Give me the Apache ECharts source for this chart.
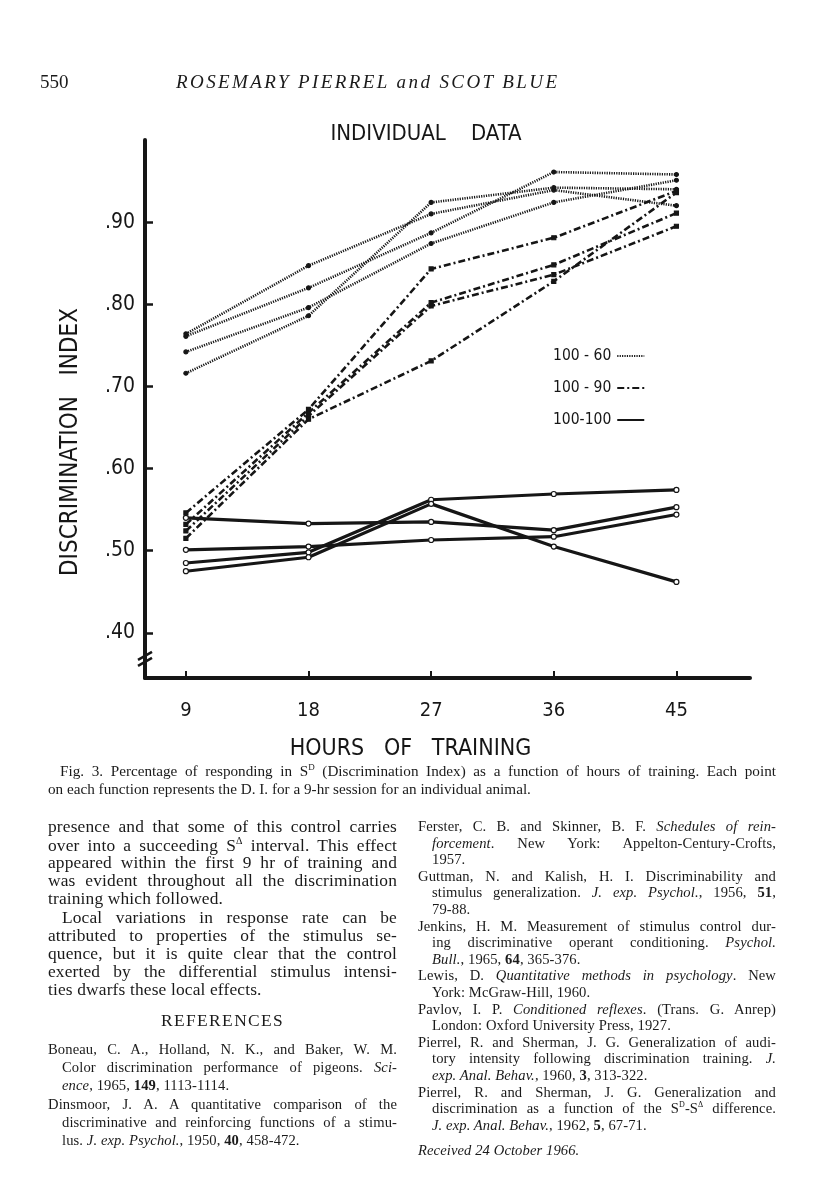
<!DOCTYPE html>
<html>
<head>
<meta charset="utf-8">
<script src="https://cdn.jsdelivr.net/npm/echarts@6/dist/echarts.min.js"></script>
<style>
  html, body { margin: 0; padding: 0; background: #ffffff; }
  #page { position: relative; width: 816px; height: 1200px; overflow: hidden; background: #fff; }
  #chart { position: absolute; left: 0; top: 0; width: 816px; height: 1200px; }
  .t { position: absolute; white-space: nowrap; font-family: "Liberation Serif", "DejaVu Serif", serif; color: #1a1a1a; line-height: 1; }
  .j { text-align: justify; text-align-last: justify; white-space: normal; }
  .body { font-size: 17.4px; letter-spacing: 0.15px; }
  .ref { font-size: 14.6px; letter-spacing: 0.1px; }
  .cap { font-size: 15.2px; }
  .hdr { font-size: 19px; }
  i { font-style: italic; }
  b { font-weight: bold; }
</style>
</head>
<body>
<div id="page">
  <div id="chart"></div>
  <div id="texts"></div>
</div>
<script>
// ---------------- data ----------------
const hours = [9, 18, 27, 36, 45];
const yTicks = [0.40, 0.50, 0.60, 0.70, 0.80, 0.90];

// 100 - 60 (dotted lines, one per animal)
const r60a = [0.716, 0.786, 0.924, 0.942, 0.940];
const r60b = [0.764, 0.847, 0.910, 0.939, 0.920];
const r60c = [0.761, 0.820, 0.887, 0.961, 0.958];
const r60d = [0.742, 0.796, 0.874, 0.924, 0.951];

// 100 - 90 (dash-dot lines)
const r90a = [0.546, 0.672, 0.843, 0.881, 0.938];
const r90b = [0.532, 0.668, 0.802, 0.848, 0.911];
const r90c = [0.524, 0.664, 0.798, 0.836, 0.895];
const r90d = [0.515, 0.660, 0.731, 0.828, 0.936];

// 100 - 100 (solid lines)
const r100a = [0.540, 0.533, 0.535, 0.525, 0.553];
const r100b = [0.501, 0.505, 0.513, 0.517, 0.544];
const r100c = [0.485, 0.498, 0.562, 0.569, 0.574];
const r100d = [0.475, 0.492, 0.557, 0.505, 0.462];

const groupNames = ['100 - 60', '100 - 90', '100-100'];

// ---------------- chart ----------------
const ink = '#161616';
const labelFont = '"DejaVu Sans Condensed", "DejaVu Sans", sans-serif';

function pts(arr) { return hours.map((h, i) => [h, arr[i]]); }

const styles = {
  '100 - 60': { type: [1.2, 1.2], width: 2.6, symbol: 'circle', size: 4, fill: ink, border: ink },
  '100 - 90': { type: [7, 3, 2, 3], width: 2.6, symbol: 'rect', size: 4, fill: ink, border: ink },
  '100-100': { type: 'solid', width: 3.2, symbol: 'circle', size: 5, fill: '#ffffff', border: ink }
};

function mk(name, arr) {
  const s = styles[name];
  return {
    type: 'line', name: name, data: pts(arr),
    symbol: s.symbol, symbolSize: s.size, showSymbol: true,
    lineStyle: { color: ink, width: s.width, type: s.type, cap: 'butt' },
    itemStyle: { color: s.fill, borderColor: s.border, borderWidth: 1.2 },
    emphasis: { disabled: true }, animation: false, z: 3
  };
}

const series = [
  mk('100 - 60', r60a), mk('100 - 60', r60b), mk('100 - 60', r60c), mk('100 - 60', r60d),
  mk('100 - 90', r90a), mk('100 - 90', r90b), mk('100 - 90', r90c), mk('100 - 90', r90d),
  mk('100-100', r100a), mk('100-100', r100b), mk('100-100', r100c), mk('100-100', r100d)
];

const chart = echarts.init(document.getElementById('chart'), null, { renderer: 'canvas' });
chart.setOption({
  backgroundColor: 'transparent',
  animation: false,
  title: {
    text: 'INDIVIDUAL    DATA', left: 421, top: 118, textAlign: 'center',
    textStyle: { fontFamily: labelFont, fontWeight: 'normal', fontSize: 22, color: ink }
  },
  legend: {
    data: groupNames, orient: 'vertical', left: 548, top: 343, align: 'right',
    itemWidth: 27, itemHeight: 14, itemGap: 16,
    itemStyle: { opacity: 0 },
    textStyle: { fontFamily: labelFont, fontSize: 15.5, color: ink, padding: [0, 1, 0, 0] },
    selectedMode: false
  },
  grid: { left: 145, top: 140, right: 66, bottom: 522, containLabel: false },
  xAxis: {
    type: 'value', min: 6, max: 50.4,
    name: 'HOURS   OF   TRAINING', nameLocation: 'middle', nameGap: 60,
    nameTextStyle: { fontFamily: labelFont, fontSize: 23, color: ink, padding: [0, 74, 0, 0] },
    axisLine: { show: true, onZero: false, lineStyle: { color: ink, width: 4 } },
    axisTick: { show: true, inside: true, length: 7, customValues: hours, lineStyle: { color: ink, width: 2 } },
    axisLabel: { customValues: hours, margin: 23, fontFamily: labelFont, fontSize: 20, color: ink },
    splitLine: { show: false }
  },
  yAxis: {
    type: 'value', min: 0.345, max: 1.0,
    name: 'DISCRIMINATION   INDEX', nameLocation: 'middle', nameGap: 62, nameRotate: 90,
    nameTextStyle: { fontFamily: labelFont, fontSize: 24, color: ink, padding: [0, 66, 0, 0] },
    axisLine: { show: true, onZero: false, lineStyle: { color: ink, width: 4 } },
    axisTick: { show: true, inside: true, length: 8, customValues: yTicks, lineStyle: { color: ink, width: 2.5 } },
    axisLabel: {
      customValues: yTicks, margin: 10, fontFamily: labelFont, fontSize: 21, color: ink,
      formatter: v => '.' + Math.round(v * 100)
    },
    splitLine: { show: false }
  },
  series: series
});

// axis break marks on the y axis
const bx = chart.convertToPixel({ gridIndex: 0 }, [6, 0.372]);
chart.setOption({
  graphic: [
    { type: 'line', shape: { x1: bx[0] - 7, y1: bx[1] + 4, x2: bx[0] + 7, y2: bx[1] - 4 }, style: { stroke: ink, lineWidth: 2.5 } },
    { type: 'line', shape: { x1: bx[0] - 7, y1: bx[1] + 10, x2: bx[0] + 7, y2: bx[1] + 2 }, style: { stroke: ink, lineWidth: 2.5 } }
  ]
});

// ---------------- page text ----------------
const header = [
  { x: 40, y: 72, cls: 'hdr', html: '550' },
  { x: 176, y: 72, cls: 'hdr', html: '<i>ROSEMARY PIERREL and SCOT BLUE</i>', style: 'letter-spacing:2.4px' }
];
const captionLines = [
  { x: 60, y: 763, w: 716, html: 'Fig. 3. Percentage of responding in S<sup style="font-size:9px">D</sup> (Discrimination Index) as a function of hours of training. Each point', j: true },
  { x: 48, y: 781, html: 'on each function represents the D. I. for a 9-hr session for an individual animal.' }
];
const leftLines = [
  { x: 48, html: 'presence and that some of this control carries', j: true },
  { x: 48, html: 'over into a succeeding S<sup style="font-size:10px">Δ</sup> interval. This effect', j: true },
  { x: 48, html: 'appeared within the first 9 hr of training and', j: true },
  { x: 48, html: 'was evident throughout all the discrimination', j: true },
  { x: 48, html: 'training which followed.' },
  { x: 62, html: 'Local variations in response rate can be', j: true },
  { x: 48, html: 'attributed to properties of the stimulus se-', j: true },
  { x: 48, html: 'quence, but it is quite clear that the control', j: true },
  { x: 48, html: 'exerted by the differential stimulus intensi-', j: true },
  { x: 48, html: 'ties dwarfs these local effects.' }
];
const leftRefs = [
  { x: 48, html: 'Boneau, C. A., Holland, N. K., and Baker, W. M.', j: true },
  { x: 62, html: 'Color discrimination performance of pigeons. <i>Sci-</i>', j: true },
  { x: 62, html: '<i>ence</i>, 1965, <b>149</b>, 1113-1114.' },
  { x: 48, html: 'Dinsmoor, J. A. A quantitative comparison of the', j: true },
  { x: 62, html: 'discriminative and reinforcing functions of a stimu-', j: true },
  { x: 62, html: 'lus. <i>J. exp. Psychol.</i>, 1950, <b>40</b>, 458-472.' }
];
const rightRefs = [
  { x: 418, html: 'Ferster, C. B. and Skinner, B. F. <i>Schedules of rein-</i>', j: true },
  { x: 432, html: '<i>forcement</i>. New York: Appelton-Century-Crofts,', j: true },
  { x: 432, html: '1957.' },
  { x: 418, html: 'Guttman, N. and Kalish, H. I. Discriminability and', j: true },
  { x: 432, html: 'stimulus generalization. <i>J. exp. Psychol.</i>, 1956, <b>51</b>,', j: true },
  { x: 432, html: '79-88.' },
  { x: 418, html: 'Jenkins, H. M. Measurement of stimulus control dur-', j: true },
  { x: 432, html: 'ing discriminative operant conditioning. <i>Psychol.</i>', j: true },
  { x: 432, html: '<i>Bull.</i>, 1965, <b>64</b>, 365-376.' },
  { x: 418, html: 'Lewis, D. <i>Quantitative methods in psychology</i>. New', j: true },
  { x: 432, html: 'York: McGraw-Hill, 1960.' },
  { x: 418, html: 'Pavlov, I. P. <i>Conditioned reflexes</i>. (Trans. G. Anrep)', j: true },
  { x: 432, html: 'London: Oxford University Press, 1927.' },
  { x: 418, html: 'Pierrel, R. and Sherman, J. G. Generalization of audi-', j: true },
  { x: 432, html: 'tory intensity following discrimination training. <i>J.</i>', j: true },
  { x: 432, html: '<i>exp. Anal. Behav.</i>, 1960, <b>3</b>, 313-322.' },
  { x: 418, html: 'Pierrel, R. and Sherman, J. G. Generalization and', j: true },
  { x: 432, html: 'discrimination as a function of the S<sup style="font-size:8px">D</sup>-S<sup style="font-size:8px">Δ</sup> difference.', j: true },
  { x: 432, html: '<i>J. exp. Anal. Behav.</i>, 1962, <b>5</b>, 67-71.' }
];

const host = document.getElementById('texts');
function put(line, y, cls, right) {
  const d = document.createElement('div');
  d.className = 't ' + cls + (line.j ? ' j' : '');
  d.style.left = line.x + 'px';
  d.style.top = y + 'px';
  if (line.j) d.style.width = ((line.w ? line.x + line.w : right) - line.x) + 'px';
  if (line.style) d.style.cssText += ';' + line.style;
  d.innerHTML = line.html;
  host.appendChild(d);
}
header.forEach(l => put(l, l.y, l.cls));
captionLines.forEach(l => put(l, l.y, 'cap', 776));
leftLines.forEach((l, i) => put(l, 818 + i * 18.1, 'body', 397));
put({ x: 161, html: 'REFERENCES', style: 'letter-spacing:1.4px' }, 1012, 'body');
leftRefs.forEach((l, i) => put(l, 1042 + i * 18.2, 'ref', 397));
rightRefs.forEach((l, i) => put(l, 819 + i * 16.6, 'ref', 776));
put({ x: 418, html: '<i>Received 24 October 1966.</i>' }, 1143, 'ref');
</script>
</body>
</html>
